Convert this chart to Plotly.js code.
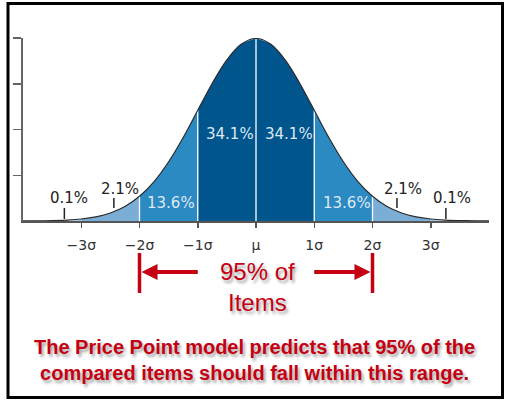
<!DOCTYPE html>
<html>
<head>
<meta charset="utf-8">
<script src="https://cdn.plot.ly/plotly-3.0.1.min.js"></script>
<style>
  html, body { margin: 0; padding: 0; background: #fff; }
  #chart { width: 506px; height: 400px; }
</style>
</head>
<body>
<div id="chart"></div>
<script>
// ---- data ----
const sigma = [-4, -3.75, -3.5, -3.25, -3, -2.75, -2.5, -2.25, -2, -1.75, -1.5, -1.25, -1, -0.75, -0.5, -0.25,
               0, 0.25, 0.5, 0.75, 1, 1.25, 1.5, 1.75, 2, 2.25, 2.5, 2.75, 3, 3.25, 3.5, 3.75, 4];
const density = [0.0001, 0.0004, 0.0009, 0.0020, 0.0044, 0.0091, 0.0175, 0.0317, 0.0540, 0.0863, 0.1295, 0.1826,
                 0.2420, 0.3011, 0.3521, 0.3867, 0.3989, 0.3867, 0.3521, 0.3011, 0.2420, 0.1826, 0.1295, 0.0863,
                 0.0540, 0.0317, 0.0175, 0.0091, 0.0044, 0.0020, 0.0009, 0.0004, 0.0001];
const bandEdges = [-4, -3, -2, -1, 0, 1, 2, 3, 4];
const bandShare = ['0.1%', '2.1%', '13.6%', '34.1%', '34.1%', '13.6%', '2.1%', '0.1%'];
const dividers = [-2, -1, 0, 1, 2];
const tickVals = [-3, -2, -1, 0, 1, 2, 3];
const tickText = ['\u22123\u03c3', '\u22122\u03c3', '\u22121\u03c3', '\u03bc', '1\u03c3', '2\u03c3', '3\u03c3'];
const rangeLow = -2, rangeHigh = 2;
const noteMain = '95% of<br>Items';
const noteBottom = 'The Price Point model predicts that 95% of the<br>compared items should fall within this range.';

// ---- styles ----
const bandColors = ['#a9cbe6', '#7aaed6', '#2c8ac3', '#00558d', '#00558d', '#2c8ac3', '#7aaed6', '#a9cbe6'];
const RED = '#c40012';
const traces = [];

// band fills
for (let b = 0; b < bandEdges.length - 1; b++) {
  const xs = [], ys = [];
  sigma.forEach((s, i) => { if (s >= bandEdges[b] && s <= bandEdges[b + 1]) { xs.push(s); ys.push(density[i]); } });
  traces.push({ x: xs, y: ys, type: 'scatter', mode: 'lines', fill: 'tozeroy',
    fillcolor: bandColors[b], line: { width: 0, shape: 'spline', color: bandColors[b] },
    hoverinfo: 'skip', showlegend: false });
}
// white dividers
const dx = [], dy = [];
dividers.forEach(d => { const h = density[sigma.indexOf(d)]; dx.push(d, d, null); dy.push(0, h, null); });
traces.push({ x: dx, y: dy, type: 'scatter', mode: 'lines', line: { color: '#ffffff', width: 1.3 },
  hoverinfo: 'skip', showlegend: false });
// curve outline
traces.push({ x: sigma, y: density, type: 'scatter', mode: 'lines',
  line: { color: '#2b2b2b', width: 1.2, shape: 'spline' }, hoverinfo: 'skip', showlegend: false });

// pixel helpers (plot area: x 23..489, y 38..221)
const L = 23, R = 17, T = 38, B = 179, H = 400 - T - B, W = 506 - L - R;
const py = p => (400 - B - p) / H;          // pixel y -> paper y
const pxp = p => (p - L) / W;               // pixel x -> paper x
const dy2 = p => (400 - B - p) / H * 0.4;   // pixel y -> data y

const labelPos = [[-3.21, 198], [-2.33, 189], [-1.46, 203], [-0.44, 134], [0.56, 134], [1.56, 203], [2.52, 189], [3.36, 198]];
const annotations = bandShare.map((t, i) => {
  const inner = (i >= 2 && i <= 5);
  return { x: labelPos[i][0], y: dy2(labelPos[i][1]), xref: 'x', yref: 'y', text: t, showarrow: false,
    xanchor: 'center', yanchor: 'middle',
    font: { family: 'DejaVu Sans', size: 15, color: inner ? '#dce8f3' : '#222222' } };
});
annotations.push({ x: pxp(257), y: py(287), xref: 'paper', yref: 'paper', text: noteMain, showarrow: false,
  xanchor: 'center', yanchor: 'middle', align: 'center',
  font: { family: 'Liberation Sans', size: 24, color: RED, shadow: '2px 3px 3px rgba(0,0,0,0.35)' } });
annotations.push({ x: pxp(254), y: py(360), xref: 'paper', yref: 'paper', text: noteBottom, showarrow: false,
  xanchor: 'center', yanchor: 'middle', align: 'center',
  font: { family: 'Liberation Sans', size: 20, weight: 'bold', color: RED, shadow: '2px 3px 3px rgba(0,0,0,0.35)' } });

// small pointer ticks for outer labels
const pointerX = [-3.29, -2.44, 2.42, 3.26];
const pointerY = [[219, 208], [208, 198], [208, 198], [219, 208]];
const shapes = pointerX.map((x, i) => ({ type: 'line', xref: 'x', yref: 'y', x0: x, x1: x,
  y0: dy2(pointerY[i][0]), y1: dy2(pointerY[i][1]), line: { color: '#222', width: 1.5 } }));

// range bars and arrows
[rangeLow, rangeHigh].forEach(v => {
  shapes.push({ type: 'line', xref: 'x', yref: 'paper', x0: v, x1: v, y0: py(293), y1: py(253),
    line: { color: RED, width: 3.5 } });
});
const sp = 58.25; // pixels per sigma
// left arrow
shapes.push({ type: 'line', xref: 'x', yref: 'paper', x0: -1.0, x1: rangeLow + 16 / sp, y0: py(272), y1: py(272),
  line: { color: RED, width: 4 } });
shapes.push({ type: 'path', xref: 'x', yref: 'paper',
  path: `M ${rangeLow + 2 / sp},${py(272)} L ${rangeLow + 18 / sp},${py(264)} L ${rangeLow + 18 / sp},${py(280)} Z`,
  fillcolor: RED, line: { width: 0 } });
// right arrow
shapes.push({ type: 'line', xref: 'x', yref: 'paper', x0: 1.0, x1: rangeHigh - 16 / sp, y0: py(272), y1: py(272),
  line: { color: RED, width: 4 } });
shapes.push({ type: 'path', xref: 'x', yref: 'paper',
  path: `M ${rangeHigh - 2 / sp},${py(272)} L ${rangeHigh - 18 / sp},${py(264)} L ${rangeHigh - 18 / sp},${py(280)} Z`,
  fillcolor: RED, line: { width: 0 } });
// outer frame
shapes.push({ type: 'rect', xref: 'paper', yref: 'paper', x0: pxp(8), x1: pxp(502.5), y0: py(397.5), y1: py(3.5),
  line: { color: '#000', width: 3 }, fillcolor: 'rgba(0,0,0,0)' });

const layout = {
  width: 506, height: 400,
  margin: { l: L, r: R, t: T, b: B, pad: 0 },
  paper_bgcolor: '#ffffff', plot_bgcolor: '#ffffff',
  showlegend: false,
  xaxis: { range: [-4, 4], tickvals: tickVals, ticktext: tickText, ticks: 'outside', ticklen: 5, tickwidth: 1.5,
    tickcolor: '#555', showline: true, linecolor: '#555', linewidth: 2, showgrid: false, zeroline: false,
    ticklabelstandoff: 5, tickfont: { family: 'DejaVu Sans', size: 14, color: '#333' }, fixedrange: true },
  yaxis: { range: [0, 0.4], tickvals: [0.1, 0.2, 0.3, 0.4], showticklabels: false, ticks: 'outside', ticklen: 8,
    tickwidth: 1.5, tickcolor: '#666', showline: true, linecolor: '#666', linewidth: 2, showgrid: false,
    zeroline: false, fixedrange: true },
  annotations: annotations,
  shapes: shapes
};
Plotly.newPlot('chart', traces, layout, { displayModeBar: false, staticPlot: true });
</script>
</body>
</html>
